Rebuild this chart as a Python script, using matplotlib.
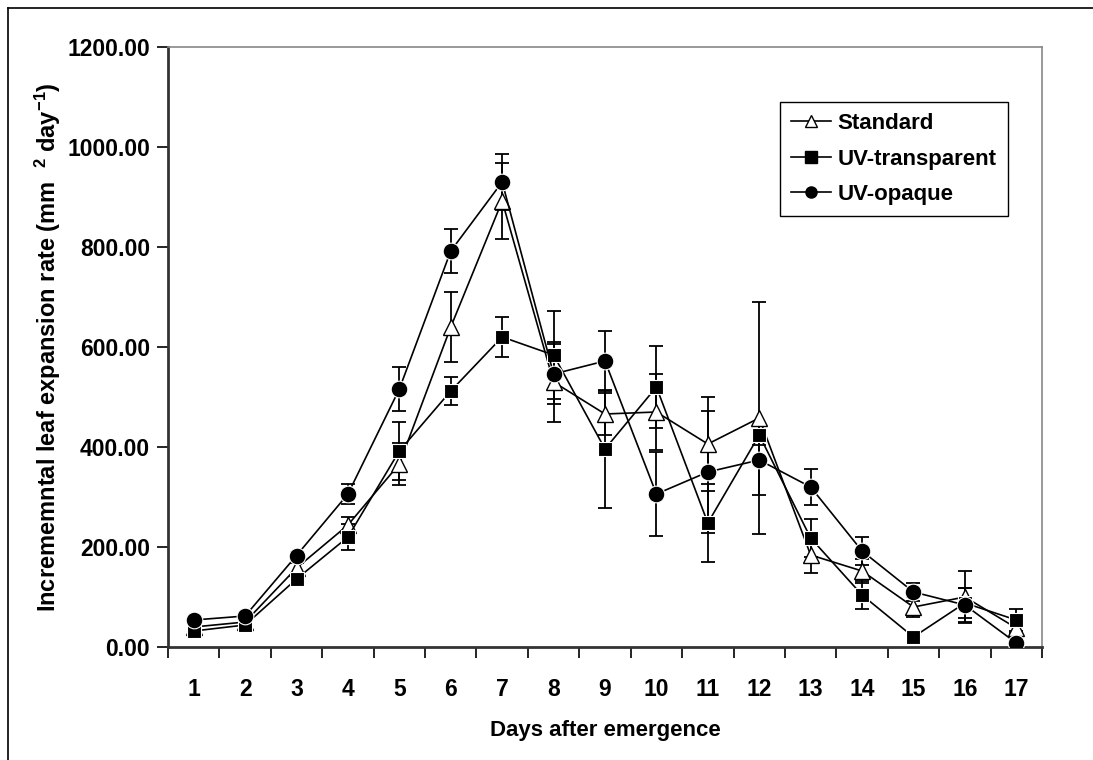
import numpy as np
import matplotlib
matplotlib.use("Agg")
import matplotlib.pyplot as plt
from matplotlib.lines import Line2D

plt.rcParams['font.family'] = ['Liberation Sans', 'DejaVu Sans']
plt.rcParams['font.weight'] = 'bold'
plt.rcParams['mathtext.fontset'] = 'custom'
plt.rcParams['mathtext.rm'] = 'Liberation Sans:bold'
plt.rcParams['mathtext.bf'] = 'Liberation Sans:bold'
plt.rcParams['mathtext.default'] = 'bf'

days = list(range(1, 18))
day_labels = [str(d) for d in days]

standard = [40, 50, 158, 244, 366, 640, 892, 530, 466, 470, 406, 458, 184, 152, 80, 100, 38]
standard_err = [6, 6, 10, 16, 42, 70, 76, 80, 42, 76, 94, 232, 36, 24, 20, 52, 10]
transparent = [32, 44, 136, 220, 392, 512, 620, 584, 396, 520, 248, 424, 218, 104, 20, 88, 54]
transparent_err = [5, 6, 10, 26, 58, 28, 40, 88, 118, 82, 78, 20, 38, 28, 6, 30, 22]
opaque = [54, 62, 183, 306, 516, 792, 930, 546, 572, 306, 350, 374, 320, 192, 110, 84, 8]
opaque_err = [6, 6, 8, 20, 44, 44, 56, 60, 60, 84, 122, 70, 36, 28, 18, 34, 6]

fig = plt.figure(figsize=(10.93, 7.60), dpi=100)
ax = fig.add_axes([168/1093, 1-647/760, (1042-168)/1093, 600/760])

x = np.array(days)
series = [
    ("Standard", standard, standard_err, dict(marker='^', mfc='white', mec='black', ms=11, mew=1.0)),
    ("UV-transparent", transparent, transparent_err, dict(marker='s', mfc='black', mec='white', ms=10, mew=0.8)),
    ("UV-opaque", opaque, opaque_err, dict(marker='o', mfc='black', mec='white', ms=12, mew=0.8)),
]

for name, vals, err, style in series:
    ax.errorbar(x, vals, yerr=err, fmt='none', ecolor='black', elinewidth=1.3,
                capsize=5, capthick=1.3, zorder=2)
for i, (name, vals, err, style) in enumerate(series):
    ax.plot(x, vals, color='black', lw=1.2, zorder=3 + i, **style)

ax.set_xlim(0.5, 17.5)
ax.set_ylim(0, 1200)
yt = np.arange(0, 1201, 200)
ax.set_yticks(yt)
ax.set_yticklabels([f"{v:.2f}" for v in yt], fontsize=16.5, fontweight='bold')
ax.set_xticks(x)
ax.set_xticklabels(day_labels, fontsize=16.5, fontweight='bold')
ax.set_xticks(np.arange(0.5, 17.6, 1), minor=True)
ax.tick_params(axis='x', which='major', length=0, pad=22)
ax.tick_params(axis='x', which='minor', length=8, width=1.2, direction='out')
ax.tick_params(axis='y', which='major', length=8, width=1.2, direction='out', pad=5)

for s in ['left', 'bottom']:
    ax.spines[s].set_linewidth(2)
    ax.spines[s].set_color('#333333')
for s in ['top', 'right']:
    ax.spines[s].set_linewidth(1.2)
    ax.spines[s].set_color('#888888')

ax.set_xlabel("Days after emergence", fontsize=16, fontweight='bold', labelpad=14)
ax.set_ylabel(r"Incrememntal leaf expansion rate (mm  $^{2}$ day$^{-1}$)",
              fontsize=17, fontweight='bold', labelpad=3)

handles = [Line2D([], [], color='black', lw=1.2, marker='^', mfc='white', mec='black', ms=9),
           Line2D([], [], color='black', lw=1.2, marker='s', mfc='black', mec='black', ms=8),
           Line2D([], [], color='black', lw=1.2, marker='o', mfc='black', mec='black', ms=8)]
leg = fig.legend(handles, [s[0] for s in series], loc='upper left',
                 bbox_to_anchor=(780/1093, 1-102/760), borderaxespad=0,
                 fancybox=False, framealpha=1,
                 edgecolor='black', handlelength=1.8, handletextpad=0.3,
                 borderpad=0.5, labelspacing=0.65, prop={'size': 16, 'weight': 'bold'})
leg.get_frame().set_linewidth(1.0)

# outer frame lines (top and left visible)
fig.add_artist(Line2D([8/1093, 1], [1-8/760, 1-8/760], color='black', lw=1.2, transform=fig.transFigure))
fig.add_artist(Line2D([8/1093, 8/1093], [0, 1-8/760], color='black', lw=1.2, transform=fig.transFigure))

fig.savefig("out.png", dpi=100)
